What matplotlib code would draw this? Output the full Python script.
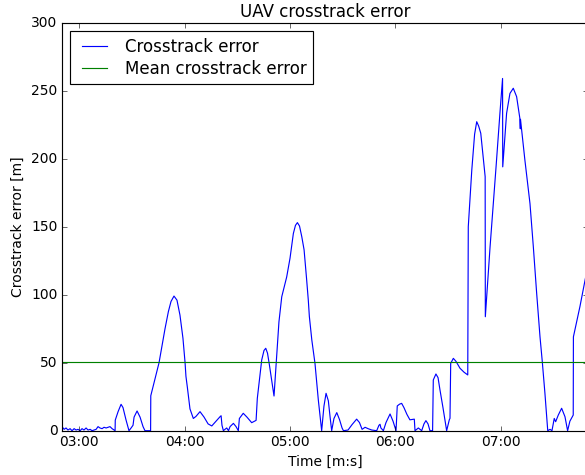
import matplotlib
matplotlib.use("Agg")
import matplotlib.pyplot as plt
from matplotlib.ticker import FuncFormatter, MultipleLocator

# Flight time in seconds since start of log
time_s = [
    170.3, 171.5, 172.6, 173.7, 174.9, 176.0, 177.2, 178.3, 179.4, 180.6,
    181.7, 182.8, 184.0, 185.1, 186.3, 187.4, 188.5, 189.7, 190.8, 191.9,
    193.1, 194.2, 195.4, 196.5, 197.6, 198.8, 199.9,
    200.5, 200.6, 202.2, 203.9, 205.0, 206.7, 208.4, 209.6, 210.7, 211.3,
    213.0, 214.7, 216.4, 217.5, 220.7, 220.8, 225.5, 228.9, 230.8, 232.3,
    234.0, 235.7, 237.4, 239.1, 240.3, 240.8, 241.6, 243.1, 245.0, 246.5,
    248.8, 251.1, 253.4, 255.5, 257.9, 260.2, 260.8, 261.3, 262.1, 263.0,
    264.0, 265.0, 265.9, 267.8, 269.3, 270.6, 271.2, 273.4, 275.5, 278.2,
    280.7, 281.4, 283.9, 285.2, 286.2, 287.2, 288.2, 289.8, 290.9, 292.4,
    293.7, 295.3, 298.1, 300.0, 301.9, 303.1, 304.2, 305.4, 306.7, 308.0,
    309.4, 310.4, 311.0, 312.4, 314.2, 316.1, 318.0, 319.3, 320.5, 321.8,
    322.8, 323.7, 325.0, 326.6, 328.2, 329.6, 330.4, 333.0, 335.3, 337.9,
    339.5, 341.0, 342.7, 344.4, 346.5, 349.3, 350.6, 351.2, 351.7, 353.1,
    354.6, 356.9, 358.6, 360.3, 361.0, 362.3, 363.5, 364.8, 366.5, 368.2,
    370.7, 371.1, 373.0, 374.9, 376.2, 377.3, 378.5, 379.6, 381.1, 381.5,
    383.0, 384.2, 385.3, 387.0, 389.1, 390.6, 391.0, 391.4, 392.9, 394.4,
    396.7, 399.0, 401.1, 401.4, 403.4, 405.0, 406.2, 407.3, 408.5, 411.0,
    411.1, 413.8, 417.2, 419.4, 420.9, 421.0, 423.2, 425.1, 427.0, 428.9,
    430.7, 431.0, 431.1, 433.6, 436.5, 438.4, 440.3, 442.2, 443.5, 445.0,
    446.6, 447.9, 449.0, 450.3, 451.1, 452.6, 454.5, 456.4, 457.9, 459.2,
    461.1, 461.2, 464.9, 467.8, 470.6,
]

# Crosstrack error in metres
error_m = [
    3, 1, 2, 0.5, 1.5, 0, 1.5, 0.5, 1, 0,
    1.5, 0.5, 2, 0.5, 1, 0, 0.5, 1, 3, 2,
    1.5, 2.5, 2, 2.5, 3, 1.5, 0.5,
    0, 7.8, 14, 19.4, 17, 8, 0, 2, 4, 10,
    14.5, 10, 3, 0, 0, 25.7, 50, 75, 87.5, 95,
    99, 96, 85, 68, 50, 40, 32, 16, 9, 10.5,
    14, 10, 5, 3.5, 7, 10.3, 11, 4, 0, 1,
    2, 0, 3, 5.4, 3, 0, 9, 12.8, 10, 5.9,
    7.6, 23.8, 52, 59, 60.6, 57, 49, 35, 25.5, 54.4,
    80, 98.5, 113, 126.8, 145, 151, 153, 150.5, 142.6, 133,
    112, 96, 84, 66.7, 49.5, 22.6, 0, 18, 27.5, 22,
    10, 0, 9, 13.3, 8, 2, 0, 0.5, 4.5, 8.5,
    6, 1, 2.5, 1.5, 0.5, 0, 4, 4.7, 2, 0,
    6, 12.3, 7, 0, 18.2, 19.5, 20.1, 17, 12, 8,
    8.5, 0, 2, 0, 5, 7.4, 5, 0, 0, 37.3,
    41.7, 39, 30, 17, 0, 8, 9.1, 49.5, 53.2, 51,
    45.9, 43, 41, 150, 191.7, 218, 227.2, 224, 218.7, 186.8,
    83.8, 135.3, 194, 233.4, 259, 194, 233.4, 248, 251.8, 245.6,
    230, 222, 229, 199, 167, 135.3, 101, 69, 50.7, 27.5,
    0, 1, 0, 9, 6.6, 11.5, 16.5, 10.3, 0, 7,
    11.5, 69, 91.2, 110.8, 128,
]

mean_error = 50.4

x_range = (170.3, 469.5)
y_range = (0, 300)


def mmss(t, _pos):
    t = int(round(t))
    return f"{t // 60:02d}:{t % 60:02d}"


plt.style.use("classic")
plt.rcParams["font.family"] = ["DejaVu Sans"]

DPI = 83
W, H = 585, 475
fig = plt.figure(figsize=(W / DPI, H / DPI), dpi=DPI)
ax = fig.add_axes([62 / W, 1 - 430.7 / H, (588 - 62) / W, (430.7 - 22.7) / H])

ax.plot(time_s, error_m, color="b", lw=1.0, label="Crosstrack error")
ax.axhline(mean_error, color="g", lw=1.0, label="Mean crosstrack error")

ax.set_xlim(*x_range)
ax.set_ylim(*y_range)
ax.xaxis.set_major_locator(MultipleLocator(60))
ax.xaxis.set_major_formatter(FuncFormatter(mmss))
ax.yaxis.set_major_locator(MultipleLocator(50))

ax.set_title("UAV crosstrack error")
ax.set_xlabel("Time [m:s]")
ax.set_ylabel("Crosstrack error [m]")
ax.legend(loc="upper left", handlelength=2.13, handletextpad=0.75,
          borderpad=0.4, labelspacing=0.25)

fig.savefig("out.png", dpi=DPI)
